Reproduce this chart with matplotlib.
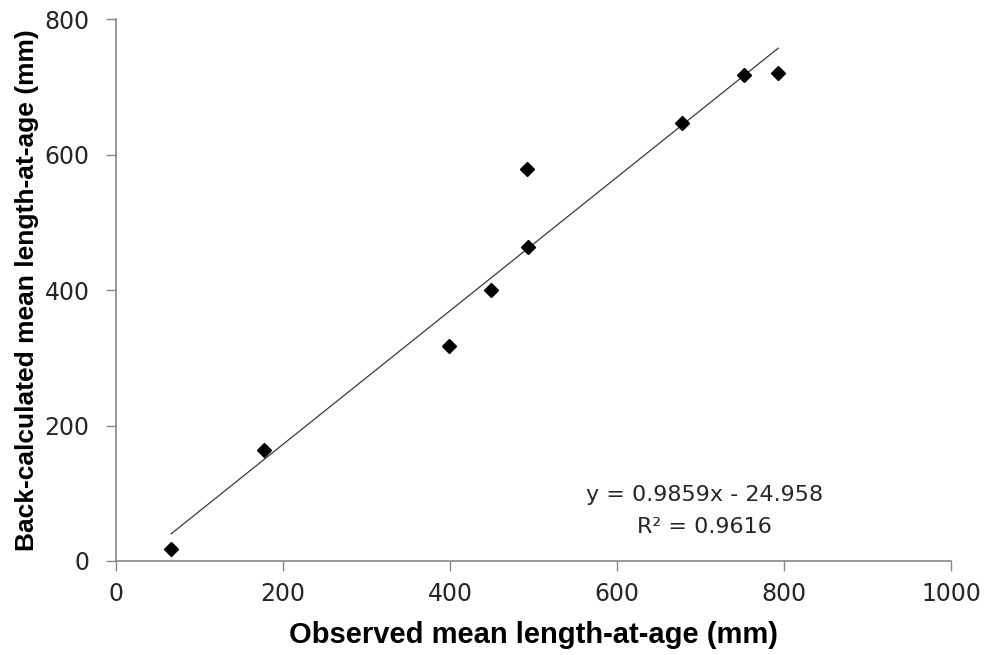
import matplotlib
matplotlib.use("Agg")
import matplotlib.pyplot as plt
import numpy as np

# Observed vs back-calculated mean length-at-age (mm)
observed = [66, 177, 399, 449, 492, 494, 678, 752, 793]
back_calculated = [18, 164, 318, 400, 579, 464, 647, 718, 721]

# Linear trend line as reported
slope = 0.9859
intercept = -24.958
r_squared = 0.9616

x_ticks = [0, 200, 400, 600, 800, 1000]
y_ticks = [0, 200, 400, 600, 800]

fig = plt.figure(figsize=(9.89, 6.55), dpi=100)
ax = fig.add_axes([116 / 989, 1 - 561 / 655, (951 - 116) / 989, (561 - 19) / 655])

xs = np.array([min(observed), max(observed)])
ax.plot(xs, slope * xs + intercept, color="#3a3a3a", lw=0.9, zorder=2)
ax.plot(observed, back_calculated, linestyle="none", marker="D", markersize=7,
        color="black", zorder=3)

ax.set_xlim(0, 1000)
ax.set_ylim(0, 800)
ax.set_xticks(x_ticks)
ax.set_yticks(y_ticks)
ax.tick_params(direction="out", length=7, width=1, colors="#868686",
               labelcolor="#262626", labelsize=17)
ax.tick_params(axis="x", pad=8)
ax.tick_params(axis="y", pad=12)
for lab in ax.get_xticklabels() + ax.get_yticklabels():
    lab.set_family("DejaVu Sans")

for side in ("top", "right"):
    ax.spines[side].set_visible(False)
for side in ("left", "bottom"):
    ax.spines[side].set_color("#868686")
    ax.spines[side].set_linewidth(1.2)

ax.set_xlabel("Observed mean length-at-age (mm)", fontsize=21, fontweight="bold",
              family="Liberation Sans", labelpad=11)
ax.set_ylabel("Back-calculated mean length-at-age (mm)", fontsize=19,
              fontweight="bold", family="Liberation Sans", labelpad=4)

ax.text(705, 97, f"y = {slope}x - {abs(intercept)}", ha="center", va="center",
        fontsize=16, color="#262626", family="DejaVu Sans")
ax.text(705, 50, f"R² = {r_squared}", ha="center", va="center",
        fontsize=16, color="#262626", family="DejaVu Sans")

fig.savefig("out.png", dpi=100)
